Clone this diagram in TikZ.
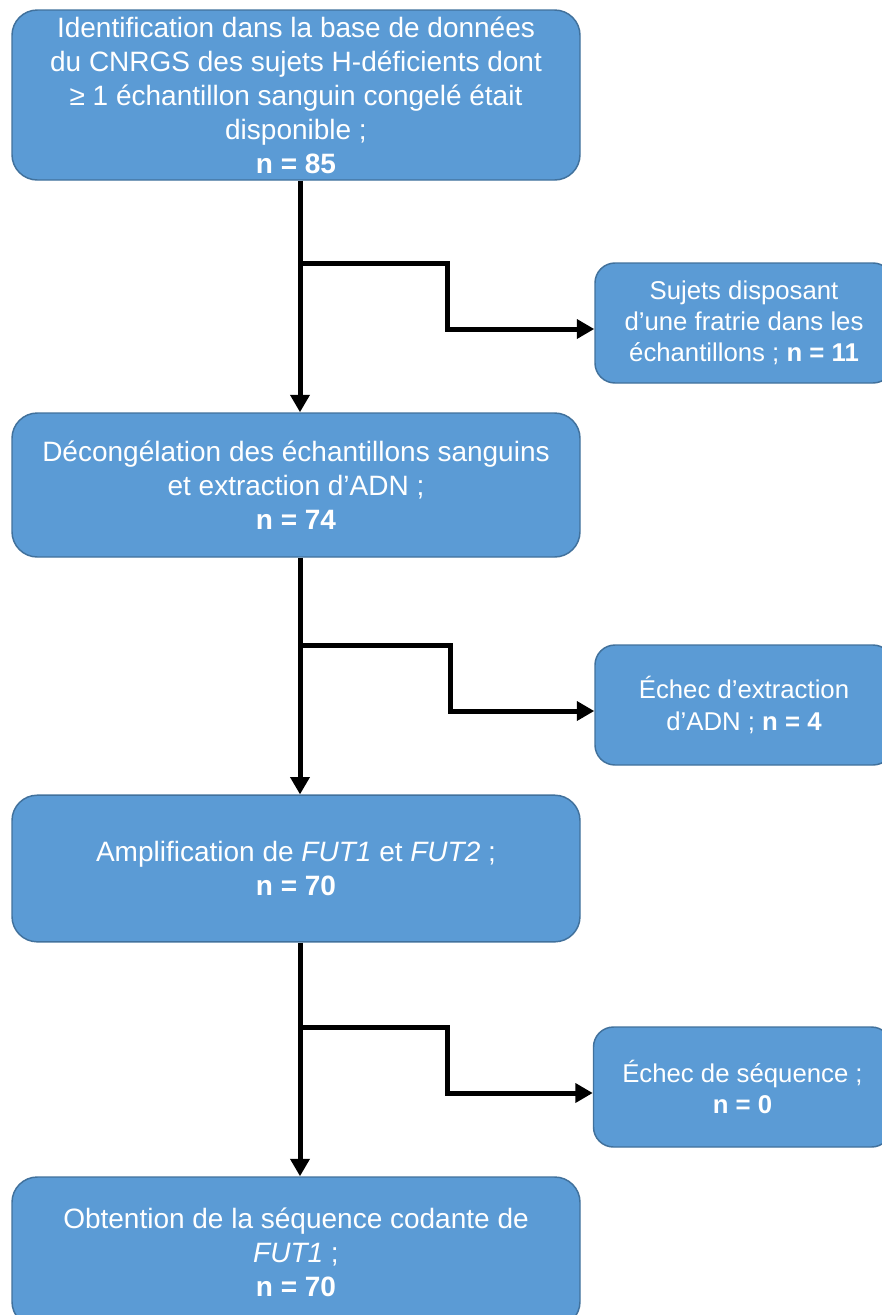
\documentclass[tikz,border=0pt]{standalone}
\usepackage{fontspec}
\setmainfont{Liberation Sans}
\usetikzlibrary{arrows.meta}
\definecolor{boxfill}{HTML}{5B9BD5}
\definecolor{boxline}{HTML}{41719C}

\begin{document}
\begin{tikzpicture}[x=0.75pt, y=-0.75pt,
  mainbox/.style={rectangle, rounded corners=19pt, draw=boxline, fill=boxfill, line width=1.1pt, text=white, align=center, minimum width=426pt, inner sep=0pt, font=\fontsize{21}{25.5}\selectfont},
  sidebox/.style={rectangle, rounded corners=15pt, draw=boxline, fill=boxfill, line width=1.1pt, text=white, align=center, minimum width=223.5pt, minimum height=90pt, inner sep=0pt, font=\fontsize{19.3}{23.3}\selectfont},
  arr/.style={black, line width=3.75pt, -{Triangle[length=13pt, width=14pt]}}]
  \useasboundingbox (0,0) rectangle (882,1315);
  \clip (0,0) rectangle (882,1315);

  % Main steps
  \node[mainbox, minimum height=127.5pt] (ident) at (296,95) {Identification dans la base de données\\du CNRGS des sujets H-déficients dont\\≥ 1 échantillon sanguin congelé était\\disponible ;\\\textbf{n = 85}};
  \node[mainbox, minimum height=108pt] (thaw) at (296,485) {Décongélation des échantillons sanguins\\et extraction d’ADN ;\\\textbf{n = 74}};
  \node[mainbox, minimum height=110pt] (ampl) at (296,868.5) {Amplification de \textit{FUT1} et \textit{FUT2} ;\\\textbf{n = 70}};
  \node[mainbox, minimum height=112.5pt] (seq) at (296,1252) {Obtention de la séquence codante de\\\textit{FUT1} ;\\\textbf{n = 70}};

  % Excluded subjects
  \node[sidebox] (sib) at (744,323) {Sujets disposant\\d’une fratrie dans les\\échantillons ; \textbf{n = 11}};
  \node[sidebox] (extfail) at (744,705) {Échec d’extraction\\d’ADN ; \textbf{n = 4}};
  \node[sidebox] (seqfail) at (742.5,1087) {Échec de séquence ;\\\textbf{n = 0}};

  % Spine and branch points
  \coordinate (spine) at (300,0);
  \coordinate (j1) at (300,263);
  \coordinate (k1) at (447,329);
  \coordinate (j2) at (300,645);
  \coordinate (k2) at (450,711);
  \coordinate (j3) at (300,1027);
  \coordinate (k3) at (447,1093);

  % Down arrows
  \draw[arr] (ident.south -| spine) -- (thaw.north -| spine);
  \draw[arr] (thaw.south -| spine) -- (ampl.north -| spine);
  \draw[arr] (ampl.south -| spine) -- (seq.north -| spine);

  % Side arrows
  \draw[arr] (j1) -| (k1) -- (k1 -| sib.west);
  \draw[arr] (j2) -| (k2) -- (k2 -| extfail.west);
  \draw[arr] (j3) -| (k3) -- (k3 -| seqfail.west);
\end{tikzpicture}
\end{document}
